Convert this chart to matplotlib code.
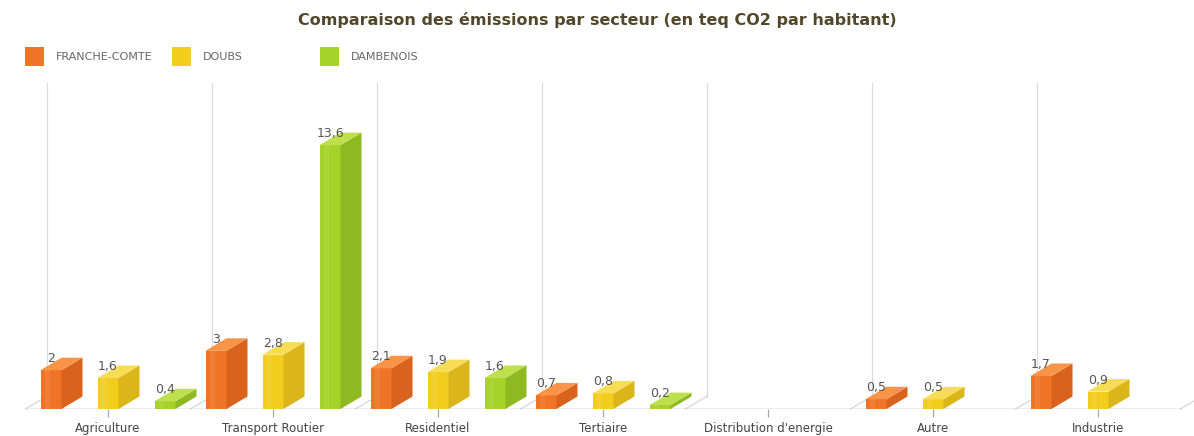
import numpy as np
import matplotlib
matplotlib.use("Agg")
import matplotlib.pyplot as plt
from matplotlib.patches import Polygon, Rectangle

categories = ["Agriculture", "Transport Routier", "Residentiel", "Tertiaire",
              "Distribution d'energie", "Autre", "Industrie"]
series_names = ["FRANCHE-COMTE", "DOUBS", "DAMBENOIS"]
franche_comte = [2, 3, 2.1, 0.7, np.nan, 0.5, 1.7]
doubs = [1.6, 2.8, 1.9, 0.8, np.nan, 0.5, 0.9]
dambenois = [0.4, 13.6, 1.6, 0.2, np.nan, np.nan, np.nan]
labels_fr = ["2", "3", "2,1", "0,7", "", "0,5", "1,7"]
labels_do = ["1,6", "2,8", "1,9", "0,8", "", "0,5", "0,9"]
labels_da = ["0,4", "13,6", "1,6", "0,2", "", "", ""]

# front / side / top colours
colors = [("#f07426", "#d9621c", "#f79448"),
          ("#f2cd1e", "#dbb61a", "#f7dc55"),
          ("#a6d22a", "#8fb922", "#bde04c")]

W, H = 1194, 436
fig = plt.figure(figsize=(W / 100, H / 100), dpi=100)

# pixel geometry
sx = 165.0      # px per category
sy = 19.4       # px per unit
x0px = 25.5     # left front edge
base_px = 409   # baseline from top
top_px = 80
ax = fig.add_axes([x0px / W, (H - base_px) / H, (W - x0px) / W, (base_px - top_px) / H])
ax.set_xlim(-0.5, -0.5 + (W - x0px) / sx)
ax.set_ylim(0, (base_px - top_px) / sy)
for s in ax.spines.values():
    s.set_visible(False)
ax.set_yticks([])

ddx = 21 / sx
ddy = 12.5 / sy
bw = 21 / sx
offs = [-57 / sx, 0, 57 / sx]

# back wall gridlines + floor diagonals
grid_top = (base_px - 83) / sy
for k in range(-1, 7):
    b = k + 0.5
    ax.plot([b, b + ddx], [0, ddy], color="#d6d6d6", lw=0.9, zorder=1, clip_on=False)
    if k < 6:
        ax.plot([b + ddx, b + ddx], [ddy, grid_top], color="#dcdcdc", lw=0.9, zorder=1)
ax.plot([-0.5, 6.5], [0, 0], color="#a8a8a8", lw=1.0, zorder=2)

x = np.arange(len(categories))
all_vals = [franche_comte, doubs, dambenois]
all_labels = [labels_fr, labels_do, labels_da]
for vals, labs, off, (cf, cs, ct) in zip(all_vals, all_labels, offs, colors):
    xs = x + off
    ax.bar(xs, vals, width=bw, color=cf, zorder=3, linewidth=0)
    for xi, v, lab in zip(xs, vals, labs):
        if np.isnan(v):
            continue
        r = xi + bw / 2
        l = xi - bw / 2
        side = Polygon([(r, 0), (r + ddx, ddy), (r + ddx, v + ddy), (r, v)],
                       closed=True, facecolor=cs, edgecolor="none", zorder=3)
        top = Polygon([(l, v), (r, v), (r + ddx, v + ddy), (l + ddx, v + ddy)],
                      closed=True, facecolor=ct, edgecolor="none", zorder=3)
        ax.add_patch(side)
        ax.add_patch(top)
        # light stripe on front face
        ax.bar(xi - bw * 0.18, v, width=bw * 0.25, color="white", alpha=0.08,
               zorder=3.5, linewidth=0)
        ax.text(xi, v + 5 / sy, lab, ha="center", va="bottom", fontsize=9,
                color="#555555", zorder=5)

ax.set_xticks(x)
ax.set_xticklabels(categories, fontsize=8.5, color="#444444")
ax.tick_params(axis="x", length=6, color="#a8a8a8", pad=3, width=0.9)

fig.text(0.5, 1 - 20 / H, "Comparaison des émissions par secteur (en teq CO2 par habitant)",
         ha="center", va="center", fontsize=11.5, fontweight="bold", color="#52472a")

leg_x = [25, 172, 320]
for lx, name, (cf, cs, ct) in zip(leg_x, series_names, colors):
    fig.patches.append(Rectangle((lx / W, 1 - 66 / H), 19 / W, 19 / H,
                                 transform=fig.transFigure, facecolor=cf, edgecolor="none"))
    fig.text((lx + 31) / W, 1 - 57 / H, name, ha="left", va="center",
             fontsize=8, color="#666666")

fig.savefig("out.png", dpi=100)
